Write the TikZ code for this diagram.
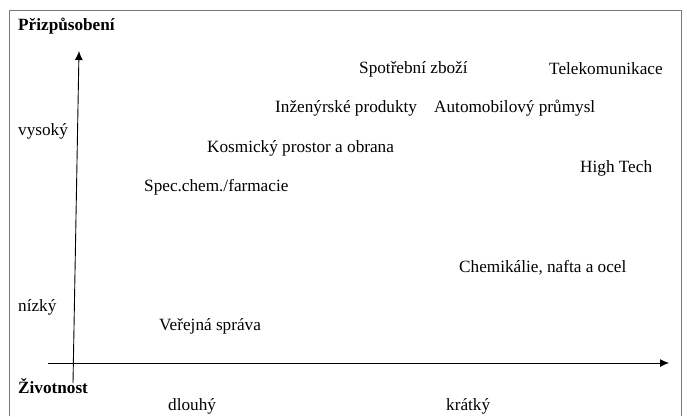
\documentclass[tikz,border=0pt]{standalone}
\usepackage{fontspec}
\setmainfont{Liberation Serif}
\usepackage{xcolor}
\usetikzlibrary{arrows.meta}
\definecolor{FrameGray}{RGB}{120, 120, 120}

\tikzset{
    sector/.style = {anchor = west, inner sep = 0pt, font = \fontsize{17.2}{19}\selectfont},
    heading/.style = {sector, font = \fontsize{17.2}{19}\selectfont\bfseries},
    axis/.style = {-{Latex[length = 9pt, width = 8pt]}, line width = 0.9pt}
}

\begin{document}
\begin{tikzpicture}[x = 1pt, y = -1pt]
            \useasboundingbox (0, 0) rectangle (687, 416);
            %rámeček
            \draw[FrameGray, line width = 0.8pt] (9.5, 416) -- (9.5, 10) -- (681, 10) -- (681, 416);
            %osy
            \coordinate (ybottom) at (73, 383);
            \coordinate (ytop) at (79, 51);
            \coordinate (xleft) at (48, 363);
            \coordinate (xright) at (669, 363);
            \draw[axis] (ybottom) -- (ytop);
            \draw[axis] (xleft) -- (xright);
            %popisky os
            \node[heading] (adapt) at (18, 26) {Přizpůsobení};
            \node[heading] (life) at (18, 386) {Životnost};
            \node[sector] (high) at (18, 131) {vysoký};
            \node[sector] (low) at (18, 307) {nízký};
            \node[sector] (long) at (168, 406) {dlouhý};
            \node[sector] (short) at (446, 406) {krátký};
            %odvětví
            \node[sector] (consumer) at (359, 69) {Spotřební zboží};
            \node[sector] (telecom) at (549, 69) {Telekomunikace};
            \node[sector] (engineering) at (275, 108) {Inženýrské produkty};
            \node[sector] (auto) at (434, 108) {Automobilový průmysl};
            \node[sector] (space) at (207, 148) {Kosmický prostor a obrana};
            \node[sector] (hightech) at (580, 168) {High Tech};
            \node[sector] (pharma) at (144, 187) {Spec.chem./farmacie};
            \node[sector] (steel) at (459, 268) {Chemikálie, nafta a ocel};
            \node[sector] (public) at (159, 326) {Veřejná správa};
        \end{tikzpicture}
\end{document}
